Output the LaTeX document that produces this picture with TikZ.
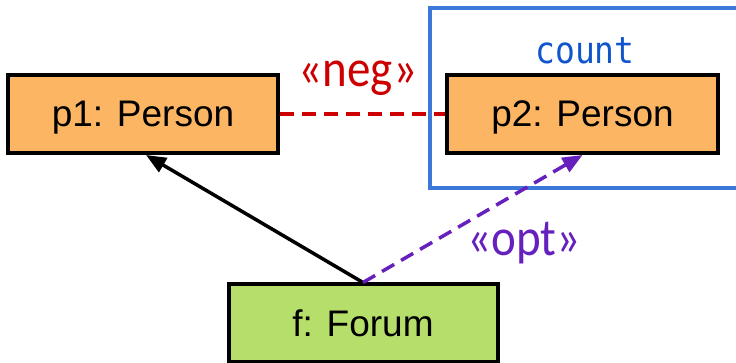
\documentclass[tikz,border=0pt]{standalone}
\usepackage{fontspec}
\setmainfont{Liberation Sans}
\newfontfamily\stereofont{Carlito}
\newfontfamily\codefont{DejaVu Sans Mono}
\usetikzlibrary{arrows.meta}
\definecolor{personfill}{RGB}{251,181,99}
\definecolor{forumfill}{RGB}{181,222,106}
\definecolor{negred}{RGB}{204,0,0}
\definecolor{optpurple}{RGB}{102,32,190}
\definecolor{countblue}{RGB}{60,120,216}
\definecolor{counttext}{RGB}{17,85,204}
\tikzset{
  objbox/.style={draw=black, line width=4pt, minimum height=78pt, inner sep=0pt,
    text depth=0pt, font=\fontsize{37}{40}\selectfont},
  tipstyle/.style={-{Triangle[length=20pt,width=16pt]}},
  dashline/.style={line width=3.5pt, dash pattern=on 14pt off 8pt},
  stereo/.style={font=\stereofont\fontsize{47}{50}\selectfont},
}
\newcommand{\tallbox}[1]{\scalebox{1}[1.12]{#1}}
\begin{document}
\begin{tikzpicture}[x=1pt,y=-1pt]
  \useasboundingbox (0,0) rectangle (736,363);
  \begin{scope}
    \clip (0,0) rectangle (736,363);
    % count frame around p2
    \draw[countblue, line width=3.5pt] (430,8) rectangle (760,188);
    \node[text=counttext, font=\codefont\fontsize{33}{35}\selectfont] (cnt) at (585,51) {\tallbox{count}};

    \node[objbox, fill=personfill, minimum width=270pt] (p1) at (143,114) {p1: Person};
    \node[objbox, fill=personfill, minimum width=271pt] (p2) at (582.5,114) {p2: Person};
    \node[objbox, fill=forumfill, minimum width=269pt, minimum height=77pt] (f) at (363,323) {f: Forum};

    % negated edge
    \draw[negred, dashline] (p1.east) -- (p2.west);
    \node[negred, stereo] (neg) at (358,78) {\tallbox{«neg»}};

    % mandatory and optional edges from the forum
    \draw[black, line width=3.5pt, tipstyle] (f.north) -- ([xshift=3pt]p1.south);
    \draw[optpurple, dashline, tipstyle] (f.north) -- (p2.south);
    \node[optpurple, stereo] (opt) at (524,243) {\tallbox{«opt»}};
  \end{scope}
\end{tikzpicture}
\end{document}
